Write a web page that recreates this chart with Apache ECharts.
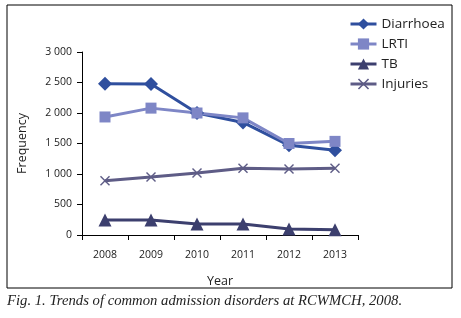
<!DOCTYPE html>
<html>
<head>
<meta charset="utf-8">
<script src="https://cdn.jsdelivr.net/npm/echarts@6/dist/echarts.min.js"></script>
<style>
  html, body { margin: 0; padding: 0; background: #fff; }
  #chart { width: 461px; height: 318px; }
</style>
</head>
<body>
<div id="chart"></div>
<script>
// data
const years = ['2008', '2009', '2010', '2011', '2012', '2013'];
const diarrhoea = [2480, 2475, 2000, 1845, 1470, 1390];
const lrti = [1935, 2080, 2000, 1920, 1500, 1535];
const tb = [245, 245, 180, 180, 100, 85];
const injuries = [890, 950, 1015, 1095, 1080, 1095];

const crossPath = 'path://M0,1L1,0L5,4L9,0L10,1L6,5L10,9L9,10L5,6L1,10L0,9L4,5Z';
const sans = '"Open Sans", "Noto Sans", sans-serif';

const chart = echarts.init(document.getElementById('chart'));

const mkSeries = (name, data, color, symbol, size) => ({
  name: name,
  type: 'line',
  data: data,
  symbol: symbol,
  symbolSize: size,
  showAllSymbol: true,
  lineStyle: { color: color, width: 3 },
  itemStyle: { color: color },
  emphasis: { disabled: true },
  animation: false
});

chart.setOption({
  animation: false,
  grid: { left: 82, right: 103, top: 52, bottom: 83, containLabel: false },
  legend: {
    orient: 'vertical',
    left: 344,
    top: 12,
    itemWidth: 26,
    itemHeight: 14,
    itemGap: 6,
    lineStyle: { width: 3 },
    textStyle: { fontFamily: sans, fontSize: 13.5, color: '#222' },
    data: ['Diarrhoea', 'LRTI', 'TB', 'Injuries']
  },
  xAxis: {
    type: 'category',
    data: years,
    boundaryGap: true,
    name: 'Year',
    nameLocation: 'middle',
    nameGap: 40,
    nameTextStyle: { fontFamily: sans, fontSize: 12.5, color: '#222' },
    axisLine: { lineStyle: { color: '#000', width: 1 } },
    axisTick: { show: true, alignWithLabel: false, length: 5, lineStyle: { color: '#000' } },
    axisLabel: { fontFamily: sans, fontSize: 10.5, color: '#222', margin: 15 },
    splitLine: { show: false }
  },
  yAxis: {
    type: 'value',
    min: 0,
    max: 3000,
    interval: 500,
    name: 'Frequency',
    nameLocation: 'middle',
    nameGap: 53,
    nameRotate: 90,
    nameTextStyle: { fontFamily: sans, fontSize: 12.5, color: '#222' },
    axisLine: { show: true, lineStyle: { color: '#000', width: 1 } },
    axisTick: { show: true, length: 5, lineStyle: { color: '#000' } },
    axisLabel: {
      fontFamily: sans, fontSize: 10.5, color: '#222', margin: 10,
      formatter: v => String(v).replace(/\B(?=(\d{3})+(?!\d))/g, ' ')
    },
    splitLine: { show: false }
  },
  series: [
    mkSeries('Diarrhoea', diarrhoea, '#2f4f9e', 'diamond', 14),
    mkSeries('LRTI', lrti, '#7e86c6', 'rect', 11),
    mkSeries('TB', tb, '#3c3f6e', 'triangle', 13),
    mkSeries('Injuries', injuries, '#5e5c86', crossPath, 10)
  ],
  graphic: [
    {
      type: 'rect',
      shape: { x: 7, y: 5, width: 445, height: 283 },
      style: { fill: 'none', stroke: '#000', lineWidth: 1 },
      silent: true
    },
    {
      type: 'text',
      left: 7,
      top: 294,
      style: {
        text: 'Fig. 1. Trends of common admission disorders at RCWMCH, 2008.',
        font: 'italic 14.7px "Liberation Serif", "DejaVu Serif", serif',
        fill: '#222'
      },
      silent: true
    }
  ]
});

window.addEventListener('resize', () => chart.resize());
</script>
</body>
</html>
